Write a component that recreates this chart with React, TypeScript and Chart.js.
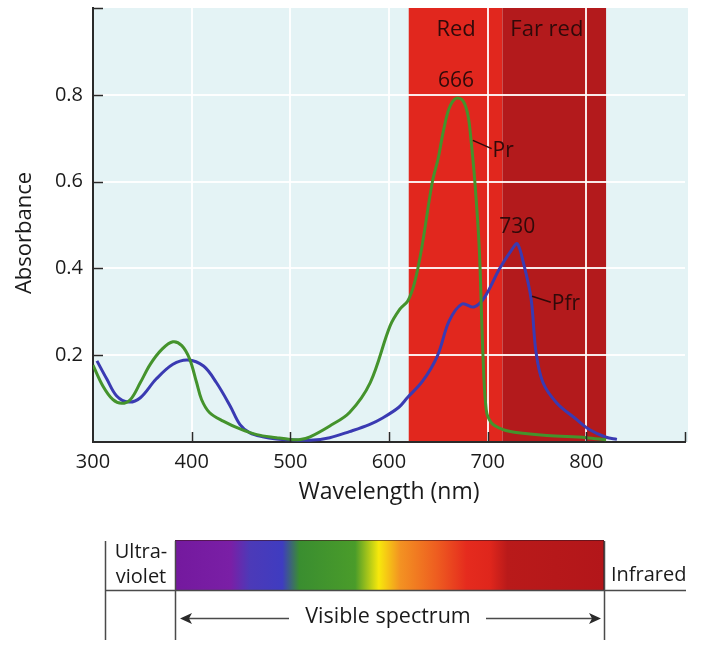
import React, { useEffect, useRef } from 'react';
import { Chart, registerables } from 'chart.js';

Chart.register(...registerables);

const FONT = '"Open Sans", "Noto Sans", sans-serif';

// Pr (red-absorbing form) absorbance spectrum
const prWavelengths = [300, 310, 320, 329, 338, 348, 358, 370, 381, 390, 398, 405, 410, 418, 432, 449, 466, 486, 500, 510, 520, 540, 560, 581, 601, 611, 619, 626, 633, 644, 650, 655, 661, 668, 675, 680, 683, 687, 691.5, 695, 698.5, 703.5, 715, 729, 760, 800, 820];
const prAbsorbance = [0.177, 0.129, 0.098, 0.089, 0.098, 0.137, 0.179, 0.214, 0.231, 0.222, 0.191, 0.137, 0.098, 0.068, 0.048, 0.03, 0.017, 0.01, 0.006, 0.006, 0.012, 0.037, 0.068, 0.137, 0.267, 0.306, 0.325, 0.368, 0.445, 0.6, 0.655, 0.715, 0.769, 0.792, 0.786, 0.753, 0.699, 0.6, 0.445, 0.214, 0.075, 0.045, 0.029, 0.022, 0.015, 0.01, 0.005];

// Pfr (far-red-absorbing form) absorbance spectrum
const pfrWavelengths = [304, 314, 324, 336, 348, 364, 381, 396, 412, 425, 439, 449, 459, 472, 486, 500, 520, 540, 560, 580, 594, 610, 619, 634, 649, 661, 674, 686, 697, 712, 725, 730, 736, 744, 749, 756, 770, 790, 803, 820, 831];
const pfrAbsorbance = [0.187, 0.145, 0.106, 0.092, 0.102, 0.145, 0.179, 0.189, 0.175, 0.137, 0.083, 0.04, 0.021, 0.012, 0.007, 0.005, 0.004, 0.01, 0.024, 0.04, 0.056, 0.08, 0.103, 0.14, 0.198, 0.279, 0.318, 0.311, 0.334, 0.399, 0.445, 0.457, 0.415, 0.33, 0.207, 0.137, 0.09, 0.052, 0.029, 0.011, 0.006];

// Axes
const xTickValues = [300, 400, 500, 600, 700, 800, 900];
const xTickLabels = ['300', '400', '500', '600', '700', '800', ''];
const yTickValues = [0.2, 0.4, 0.6, 0.8];
const yTickLabels = ['0.2', '0.4', '0.6', '0.8'];
const yTickMarks = [0.2, 0.4, 0.6, 0.8, 1.0];
const xTickMarks = [400, 500, 600, 700, 800, 900];

// Spectral bands (nm)
const bandStarts = [620, 715];
const bandEnds = [715, 820];
const bandNames = ['Red', 'Far red'];
const bandLabelX = [668, 760];
const bandColors = ['#e1271e', '#b31a1c'];

// Peak labels
const peakLabels = ['666', '730'];
const peakX = [668, 730];
const peakY = [0.792, 0.457];

// Curve labels (leader start x,y ; text x,y)
const curveNames = ['Pr', 'Pfr'];
const leaderFromX = [685, 745];
const leaderFromY = [0.695, 0.336];
const leaderToX = [704, 764];
const leaderToY = [0.676, 0.322];

export default function App() {
  const ref = useRef<HTMLCanvasElement>(null);

  useEffect(() => {
    const canvas = ref.current;
    if (!canvas) return;

    const backgroundPlugin = {
      id: 'bgBands',
      beforeDraw(chart: any) {
        const { ctx, chartArea, scales } = chart;
        const xs = scales.x;
        ctx.save();
        ctx.fillStyle = '#e4f3f5';
        ctx.fillRect(chartArea.left, chartArea.top, chartArea.right - chartArea.left + 3, chartArea.bottom - chartArea.top);
        for (let i = 0; i < bandStarts.length; i++) {
          const x0 = xs.getPixelForValue(bandStarts[i]);
          const x1 = xs.getPixelForValue(bandEnds[i]);
          ctx.fillStyle = bandColors[i];
          ctx.fillRect(x0, chartArea.top, x1 - x0, chartArea.bottom - chartArea.top);
        }
        ctx.restore();
      },
    };

    const overlayPlugin = {
      id: 'overlay',
      afterDraw(chart: any) {
        const { ctx, chartArea, scales } = chart;
        const xs = scales.x;
        const ys = scales.y;
        ctx.save();
        // inward tick marks
        ctx.strokeStyle = '#2a2a2a';
        ctx.lineWidth = 1.5;
        ctx.beginPath();
        xTickMarks.forEach((v) => {
          const px = Math.round(xs.getPixelForValue(v)) + 0.5;
          ctx.moveTo(px, chartArea.bottom);
          ctx.lineTo(px, chartArea.bottom - 10);
        });
        yTickMarks.forEach((v) => {
          const py = Math.round(ys.getPixelForValue(v)) + 0.5;
          ctx.moveTo(chartArea.left, py);
          ctx.lineTo(chartArea.left + 10, py);
        });
        ctx.stroke();

        // y axis title
        ctx.fillStyle = '#1a1a1a';
        ctx.font = `22px ${FONT}`;
        ctx.textAlign = 'center';
        ctx.textBaseline = 'middle';
        ctx.save();
        ctx.translate(25, 233);
        ctx.rotate(-Math.PI / 2);
        ctx.fillText('Absorbance', 0, 0);
        ctx.restore();

        // band labels
        ctx.fillStyle = '#300a0a';
        ctx.font = `22px ${FONT}`;
        bandNames.forEach((t, i) => {
          ctx.fillText(t, xs.getPixelForValue(bandLabelX[i]), ys.getPixelForValue(0.951));
        });
        // peak labels
        ctx.font = `21px ${FONT}`;
        peakLabels.forEach((t, i) => {
          ctx.fillText(t, xs.getPixelForValue(peakX[i]), ys.getPixelForValue(peakY[i]) - 17);
        });
        // curve labels with leaders
        ctx.strokeStyle = '#300a0a';
        ctx.lineWidth = 1.5;
        ctx.textAlign = 'left';
        curveNames.forEach((t, i) => {
          const fx = xs.getPixelForValue(leaderFromX[i]);
          const fy = ys.getPixelForValue(leaderFromY[i]);
          const tx = xs.getPixelForValue(leaderToX[i]);
          const ty = ys.getPixelForValue(leaderToY[i]);
          ctx.beginPath();
          ctx.moveTo(fx, fy);
          ctx.lineTo(tx, ty);
          ctx.stroke();
          ctx.fillText(t, tx + 1, ty + 2);
        });

        // spectrum strip below the chart
        const barL = 175, barR = 604, barT = 540, barB = 590;
        const g = ctx.createLinearGradient(barL, 0, barR, 0);
        const stops: [number, string][] = [
          [0, '#74199e'], [0.13, '#7a1fa6'], [0.175, '#4c3ab8'], [0.25, '#3f3cc0'],
          [0.29, '#3a8e30'], [0.42, '#4a9c2a'], [0.475, '#f7e80c'], [0.525, '#f39222'],
          [0.61, '#ee5d20'], [0.68, '#e52b1e'], [0.735, '#df261c'], [0.775, '#b91a1a'], [1, '#b3161a'],
        ];
        stops.forEach(([o, c]) => g.addColorStop(o, c));
        ctx.fillStyle = g;
        ctx.fillRect(barL, barT, barR - barL, barB - barT);
        ctx.strokeStyle = 'rgba(60,20,30,0.6)';
        ctx.lineWidth = 1;
        ctx.strokeRect(barL + 0.5, barT + 0.5, barR - barL - 1, barB - barT);

        ctx.strokeStyle = '#4a4a4a';
        ctx.lineWidth = 1.5;
        ctx.beginPath();
        ctx.moveTo(105, barB + 0.5);
        ctx.lineTo(686, barB + 0.5);
        [105, barL, barR].forEach((x) => {
          ctx.moveTo(x + 0.5, 541);
          ctx.lineTo(x + 0.5, 640);
        });
        // arrow shafts
        ctx.moveTo(184, 618.5);
        ctx.lineTo(289, 618.5);
        ctx.moveTo(486, 618.5);
        ctx.lineTo(597, 618.5);
        ctx.stroke();
        ctx.fillStyle = '#2a2a2a';
        ctx.beginPath();
        ctx.moveTo(180, 618.5);
        ctx.lineTo(192, 613);
        ctx.lineTo(189, 618.5);
        ctx.lineTo(192, 624);
        ctx.closePath();
        ctx.moveTo(601, 618.5);
        ctx.lineTo(589, 613);
        ctx.lineTo(592, 618.5);
        ctx.lineTo(589, 624);
        ctx.closePath();
        ctx.fill();

        ctx.fillStyle = '#1a1a1a';
        ctx.font = `20px ${FONT}`;
        ctx.textAlign = 'center';
        ctx.textBaseline = 'middle';
        ctx.fillText('Ultra-', 141, 552);
        ctx.fillText('violet', 141, 577);
        ctx.textAlign = 'left';
        ctx.fillText('Infrared', 611, 575);
        ctx.textAlign = 'center';
        ctx.font = `21.5px ${FONT}`;
        ctx.fillText('Visible spectrum', 388, 617);
        ctx.restore();
      },
    };

    const chart = new Chart(canvas, {
      type: 'line',
      data: {
        datasets: [
          {
            label: 'Pr',
            data: prWavelengths.map((x, i) => ({ x, y: prAbsorbance[i] })),
            borderColor: '#44932c',
            borderWidth: 3,
            pointRadius: 0,
            tension: 0.35,
            fill: false,
          },
          {
            label: 'Pfr',
            data: pfrWavelengths.map((x, i) => ({ x, y: pfrAbsorbance[i] })),
            borderColor: '#3a3ab2',
            borderWidth: 3,
            pointRadius: 0,
            tension: 0.35,
            fill: false,
          },
        ],
      },
      options: {
        responsive: false,
        animation: false,
        devicePixelRatio: 1,
        layout: { padding: { left: 0, right: 16, top: 8, bottom: 146 } },
        plugins: { legend: { display: false }, tooltip: { enabled: false } },
        scales: {
          x: {
            type: 'linear',
            min: 300,
            max: 900,
            afterBuildTicks: (s: any) => {
              s.ticks = xTickValues.map((v) => ({ value: v }));
            },
            ticks: {
              callback: (_v: any, i: number) => xTickLabels[i],
              font: { family: FONT, size: 20 },
              color: '#1a1a1a',
              padding: 8,
              maxRotation: 0,
              autoSkip: false,
            },
            grid: {
              color: (c: any) => (c.tick && (c.tick.value === 900 || c.tick.value === 300) ? 'rgba(0,0,0,0)' : 'rgba(255,255,255,0.9)'),
              lineWidth: 2,
              drawTicks: false,
            },
            border: { display: true, color: '#2a2a2a', width: 2 },
            title: {
              display: true,
              text: 'Wavelength (nm)',
              font: { family: FONT, size: 23 },
              color: '#1a1a1a',
              padding: { top: 0, bottom: 6 },
            },
            afterFit: (s: any) => {
              s.height = 70;
              s.paddingLeft = 0;
              s.paddingRight = 0;
            },
          },
          y: {
            type: 'linear',
            min: 0,
            max: 1,
            afterBuildTicks: (s: any) => {
              s.ticks = yTickValues.map((v) => ({ value: v }));
            },
            ticks: {
              callback: (_v: any, i: number) => yTickLabels[i],
              font: { family: FONT, size: 20 },
              color: '#1a1a1a',
              padding: 10,
            },
            grid: { color: 'rgba(255,255,255,0.9)', lineWidth: 2, drawTicks: false },
            border: { display: true, color: '#2a2a2a', width: 2 },
            afterFit: (s: any) => {
              s.width = 93;
              s.paddingTop = 0;
              s.paddingBottom = 0;
            },
          },
        },
      },
      plugins: [backgroundPlugin, overlayPlugin],
    } as any);

    return () => chart.destroy();
  }, []);

  return (
    <div style={{ position: 'absolute', left: 0, top: 0, width: 701, height: 658, background: '#ffffff' }}>
      <canvas ref={ref} width={701} height={658} style={{ display: 'block', width: 701, height: 658 }} />
    </div>
  );
}
